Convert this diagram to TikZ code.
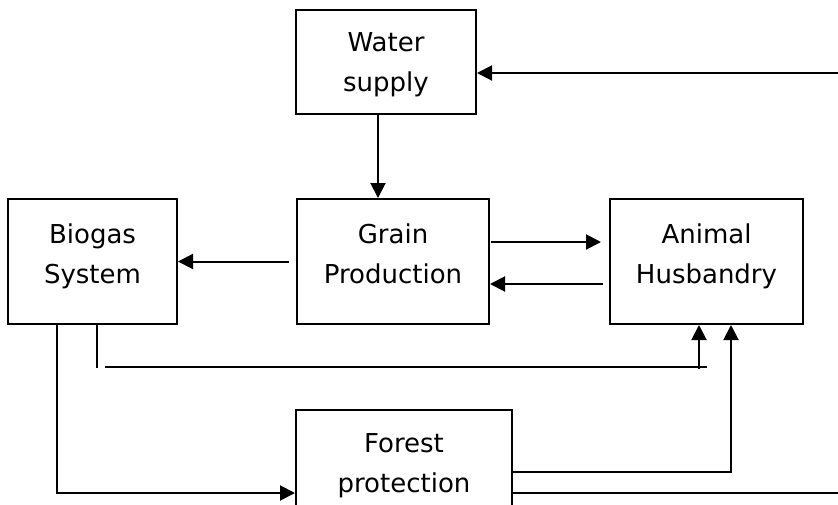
\documentclass[tikz,border=0pt]{standalone}
\usepackage{fontspec}
\setmainfont{DejaVu Sans}
\usepackage{tikz}
\usetikzlibrary{arrows.meta,positioning,calc}

\begin{document}
\begin{tikzpicture}[
        x=1pt, y=-1pt,
        block/.style={rectangle, draw, fill=white, align=center, minimum height=125pt, inner sep=0pt, line width=2pt, font=\fontsize{26}{40}\selectfont, text height=60pt, text depth=17pt},
        arrow/.style={draw, -{Triangle[length=15pt,width=15pt]}, line width=2pt},
        link/.style={draw, line width=2pt}
    ]
    \useasboundingbox (0,0) rectangle (838,504);

    % Middle row
    \node [block, minimum width=192pt] (grain) at (393,261.5) {Grain\\Production};
    \node [block, minimum width=169pt, left=118pt of grain] (biogas) {Biogas\\System};
    \node [block, minimum width=193pt, right=119pt of grain] (animal) {Animal\\Husbandry};

    % Top and bottom
    \node [block, minimum width=180pt, minimum height=104pt, text depth=2pt, above=83pt of grain, xshift=-7pt] (water) {Water\\supply};
    \node [block, minimum width=216pt, minimum height=124pt, text depth=20pt, below=84pt of grain, xshift=11pt] (forest) {Forest\\protection};

    % Right edge of the picture
    \coordinate (rim) at (840,0);

    % Connections
    \path [arrow] ([yshift=-11pt]water.east -| rim) -- ([yshift=-11pt]water.east);
    \path [arrow] ([xshift=-8pt]water.south) -- ([xshift=-8pt]water.south |- grain.north);
    \path [arrow] ([xshift=-7pt]grain.west) -- (biogas.east);
    \path [arrow] ([xshift=1pt,yshift=19.5pt]grain.east) -- ([xshift=-8pt,yshift=19.5pt]animal.west);
    \path [arrow] ([xshift=-6pt,yshift=-22.5pt]animal.west) -- ([yshift=-22.5pt]grain.east);

    % Biogas outputs
    \path [arrow] ([xshift=-35.5pt]biogas.south) |- ([yshift=-21pt]forest.west);
    \coordinate (bend) at ([xshift=-7.5pt,yshift=-42pt]animal.south);
    \path [link] ([xshift=4.5pt]biogas.south) -- ([xshift=4.5pt,yshift=-43pt]biogas.south);
    \path [link] ([xshift=12.5pt]biogas.south |- bend) -- ([xshift=8pt]bend);
    \path [arrow] ([yshift=-2pt]bend) -- (bend |- animal.south);

    % Forest outputs
    \path [arrow] (forest.east) -| ([xshift=24.5pt]animal.south);
    \path [link] ([yshift=-21pt]forest.east) -- ([yshift=-21pt]forest.east -| rim);

\end{tikzpicture}
\end{document}
